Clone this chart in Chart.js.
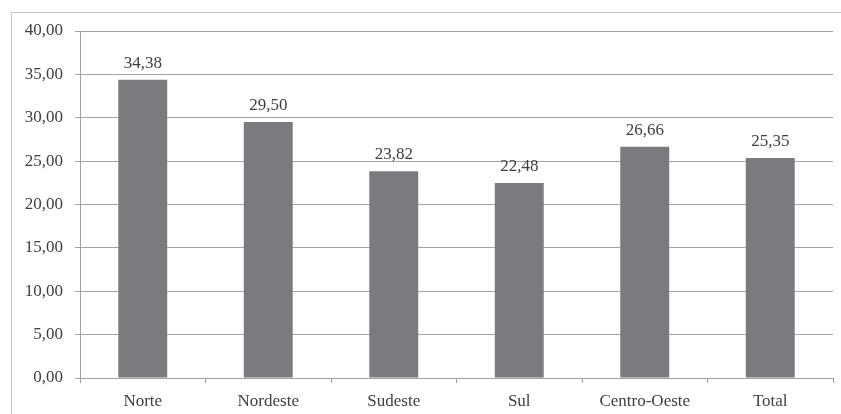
<!DOCTYPE html>
<html>
<head>
<meta charset="utf-8">
<style>
  html, body { margin: 0; padding: 0; background: #fff; }
  #wrap { position: relative; width: 841px; height: 414px; }
</style>
<script src="https://cdn.jsdelivr.net/npm/chart.js@4/dist/chart.umd.min.js"></script>
</head>
<body>
<div id="wrap"><canvas id="c" width="841" height="414"></canvas></div>
<script>
const regions = ['Norte', 'Nordeste', 'Sudeste', 'Sul', 'Centro-Oeste', 'Total'];
const values = [34.38, 29.50, 23.82, 22.48, 26.66, 25.35];
const yTicks = [0, 5, 10, 15, 20, 25, 30, 35, 40];

const fmt = v => v.toFixed(2).replace('.', ',');
const textColor = '#3f3f3f';
const fontSpec = { family: '"Liberation Serif", "DejaVu Serif", serif', size: 17 };

// Thin frame around the whole figure
const framePlugin = {
  id: 'frame',
  beforeDraw(chart) {
    const ctx = chart.ctx;
    ctx.save();
    ctx.strokeStyle = '#c4c4c4';
    ctx.lineWidth = 1;
    ctx.strokeRect(11.5, 12.5, 1000, 1000);
    ctx.restore();
  }
};

// Value labels above each bar
const valueLabels = {
  id: 'valueLabels',
  afterDatasetsDraw(chart) {
    const ctx = chart.ctx;
    const meta = chart.getDatasetMeta(0);
    ctx.save();
    ctx.font = `${fontSpec.size}px ${fontSpec.family}`;
    ctx.fillStyle = textColor;
    ctx.textAlign = 'center';
    ctx.textBaseline = 'bottom';
    meta.data.forEach((bar, i) => {
      ctx.fillText(fmt(values[i]), bar.x, bar.y - 8);
    });
    ctx.restore();
  }
};

new Chart(document.getElementById('c'), {
  type: 'bar',
  data: {
    labels: regions,
    datasets: [{
      data: values,
      backgroundColor: '#7b7b7f',
      borderWidth: 0,
      categoryPercentage: 1.0,
      barPercentage: 0.39
    }]
  },
  options: {
    responsive: false,
    animation: false,
    layout: { padding: { left: 0, right: 8, top: 31, bottom: 0 } },
    plugins: { legend: { display: false }, tooltip: { enabled: false } },
    scales: {
      x: {
        grid: {
          offset: true,
          drawOnChartArea: false,
          drawTicks: true,
          tickLength: 5,
          color: '#a0a0a0'
        },
        border: { color: '#a0a0a0', width: 1 },
        ticks: { color: textColor, font: fontSpec, padding: 8, maxRotation: 0 },
        afterFit(scale) { scale.height = 36; }
      },
      y: {
        min: 0,
        max: 40,
        afterBuildTicks(scale) { scale.ticks = yTicks.map(v => ({ value: v })); },
        grid: { color: '#a4a4a4', lineWidth: 1, tickLength: 5 },
        border: { color: '#a0a0a0', width: 1 },
        ticks: {
          color: textColor,
          font: fontSpec,
          padding: 12,
          callback: v => fmt(v)
        },
        afterFit(scale) { scale.width = 80; }
      }
    }
  },
  plugins: [framePlugin, valueLabels]
});
</script>
</body>
</html>
